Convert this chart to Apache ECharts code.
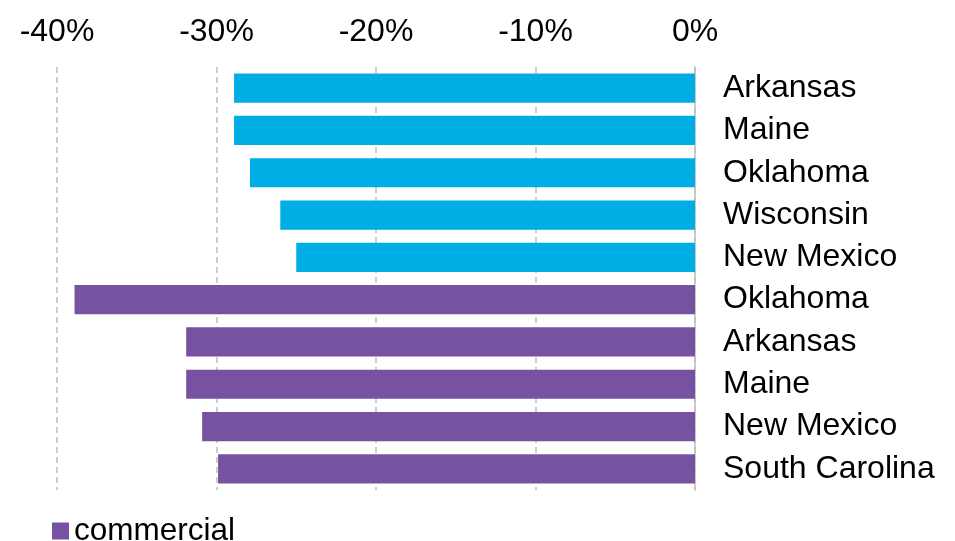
<!DOCTYPE html>
<html lang="en">
<head>
    <meta charset="UTF-8">
    <title>Largest declines by state</title>
    <style>
        body, html {
            margin: 0;
            width: 100%;
            height: 100%;
            background: #fff;
        }
        #container {
            width: 955px;
            height: 541px;
        }
    </style>
    <script src="https://cdn.jsdelivr.net/npm/echarts@6/dist/echarts.min.js"></script>
</head>
<body>
<div id="container"></div>
<script type="text/javascript">
    // categories, top to bottom
    var states = ['Arkansas', 'Maine', 'Oklahoma', 'Wisconsin', 'New Mexico',
        'Oklahoma', 'Arkansas', 'Maine', 'New Mexico', 'South Carolina'];
    // residential (blue) - first five rows
    var residential = [-28.9, -28.9, -27.9, -26.0, -25.0, '-', '-', '-', '-', '-'];
    // commercial (purple) - last five rows
    var commercial = ['-', '-', '-', '-', '-', -38.9, -31.9, -31.9, -30.9, -29.9];
    var xTicks = {min: -40, max: 0, interval: 10};

    var myChart = echarts.init(document.getElementById('container'));
    var font = 'Liberation Sans, Arial, sans-serif';

    var option = {
        animation: false,
        legend: {
            data: ['commercial'],
            left: 47,
            top: 510,
            icon: 'rect',
            itemWidth: 17,
            itemHeight: 17,
            itemGap: 10,
            textStyle: {fontFamily: font, fontSize: 31.5, color: '#000'}
        },
        grid: {left: 57, right: 260, top: 67, bottom: 51},
        xAxis: {
            type: 'value',
            position: 'top',
            min: xTicks.min,
            max: xTicks.max,
            interval: xTicks.interval,
            axisLine: {show: false},
            axisTick: {show: false},
            axisLabel: {
                formatter: '{value}%',
                margin: 19,
                fontFamily: font,
                fontSize: 32,
                color: '#000'
            },
            splitLine: {show: true, lineStyle: {color: '#bfbfbf', type: [6, 4], width: 1.5}}
        },
        yAxis: {
            type: 'category',
            position: 'right',
            inverse: true,
            data: states,
            axisLine: {show: true, lineStyle: {color: '#bfbfbf', width: 1.5}},
            axisTick: {show: false},
            axisLabel: {
                margin: 28,
                fontFamily: font,
                fontSize: 32,
                color: '#000'
            }
        },
        series: [
            {
                name: 'residential',
                type: 'bar',
                stack: 'all',
                barCategoryGap: '31%',
                itemStyle: {color: '#00ADE4'},
                data: residential
            },
            {
                name: 'commercial',
                type: 'bar',
                stack: 'all',
                barCategoryGap: '31%',
                itemStyle: {color: '#7652A1'},
                data: commercial
            }
        ]
    };
    myChart.setOption(option);
</script>
</body>
</html>
